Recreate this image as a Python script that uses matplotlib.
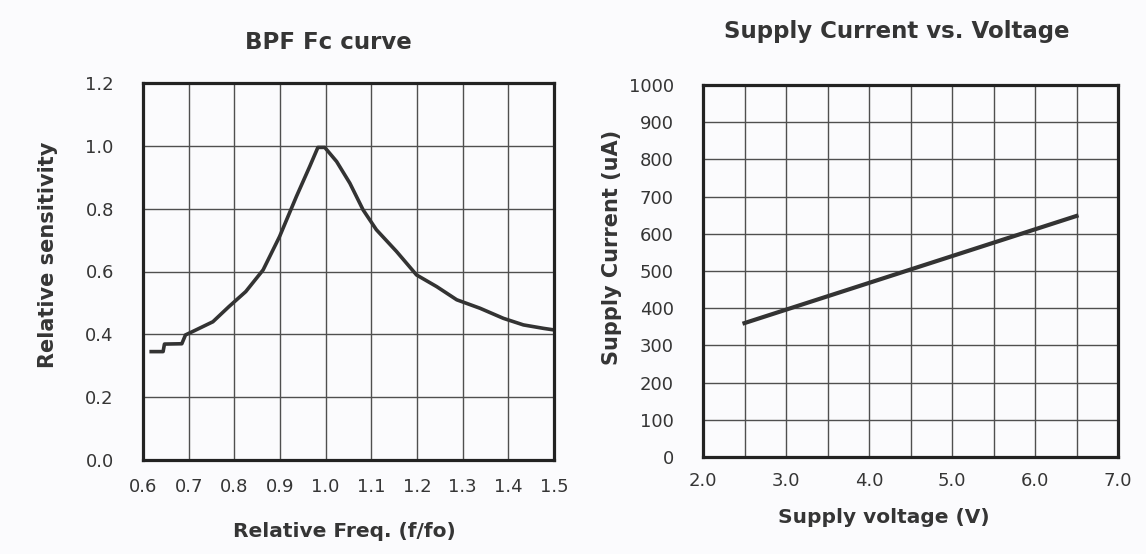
import matplotlib
matplotlib.use("Agg")
import matplotlib.pyplot as plt
from matplotlib.ticker import MultipleLocator

plt.rcParams["font.family"] = ["DejaVu Sans"]

# BPF Fc curve
freq = [0.618, 0.644, 0.647, 0.685, 0.693, 0.716, 0.753, 0.788, 0.825, 0.863,
        0.899, 0.936, 0.965, 0.983, 0.998, 1.024, 1.053, 1.082, 1.111, 1.155,
        1.199, 1.243, 1.287, 1.338, 1.389, 1.433, 1.477, 1.5]
sens = [0.345, 0.345, 0.369, 0.37, 0.398, 0.414, 0.44, 0.488, 0.536, 0.605,
        0.711, 0.839, 0.934, 0.995, 0.995, 0.95, 0.881, 0.796, 0.733, 0.664,
        0.589, 0.552, 0.51, 0.483, 0.451, 0.43, 0.419, 0.414]

# Supply current vs voltage
volt = [2.5, 6.5]
current = [360, 648]

bg = "#fbfbfd"
txt = "#353535"
fig = plt.figure(figsize=(11.46, 5.54), dpi=100, facecolor=bg)

ax1 = fig.add_axes([143 / 1146, 94 / 554, 411 / 1146, 377 / 554])
ax2 = fig.add_axes([703 / 1146, 97 / 554, 415 / 1146, 372 / 554])

for ax in (ax1, ax2):
    ax.set_facecolor(bg)
    for s in ax.spines.values():
        s.set_linewidth(2.3)
        s.set_color("#222222")
    ax.grid(True, which="both", color="#4f4f4f", linewidth=1.0)
    ax.tick_params(which="both", length=0, labelsize=13, colors=txt)
    ax.tick_params(axis="y", pad=21)

ax1.tick_params(axis="x", pad=13)
ax2.tick_params(axis="x", pad=11)

ax1.plot(freq, sens, color="#333333", linewidth=2.6)
ax1.set_xlim(0.6, 1.5)
ax1.set_ylim(0, 1.2)
ax1.xaxis.set_major_locator(MultipleLocator(0.1))
ax1.yaxis.set_major_locator(MultipleLocator(0.2))
ax1.xaxis.set_major_formatter(lambda v, p: f"{v:.1f}")
ax1.yaxis.set_major_formatter(lambda v, p: f"{v:.1f}")
ax1.set_title("BPF Fc curve", fontsize=16.5, fontweight="bold", color=txt,
              x=0.45, y=1.09, pad=0)
ax1.set_xlabel("Relative Freq. (f/fo)", fontsize=14.5, fontweight="bold", color=txt)
ax1.set_ylabel("Relative sensitivity", fontsize=15, fontweight="bold", color=txt)
ax1.xaxis.set_label_coords(0.491, -0.164)
ax1.yaxis.set_label_coords(-0.208, 0.544)

ax2.plot(volt, current, color="#333333", linewidth=3)
ax2.set_xlim(2.0, 7.0)
ax2.set_ylim(0, 1000)
ax2.xaxis.set_major_locator(MultipleLocator(1.0))
ax2.xaxis.set_minor_locator(MultipleLocator(0.5))
ax2.yaxis.set_major_locator(MultipleLocator(100))
ax2.xaxis.set_major_formatter(lambda v, p: f"{v:.1f}")
ax2.set_title("Supply Current vs. Voltage", fontsize=16.5, fontweight="bold", color=txt,
              x=0.467, y=1.126, pad=0)
ax2.set_xlabel("Supply voltage (V)", fontsize=14.5, fontweight="bold", color=txt)
ax2.set_ylabel("Supply Current (uA)", fontsize=15, fontweight="bold", color=txt)
ax2.xaxis.set_label_coords(0.436, -0.138)
ax2.yaxis.set_label_coords(-0.195, 0.562)

fig.savefig("out.png", dpi=100, facecolor=bg)
